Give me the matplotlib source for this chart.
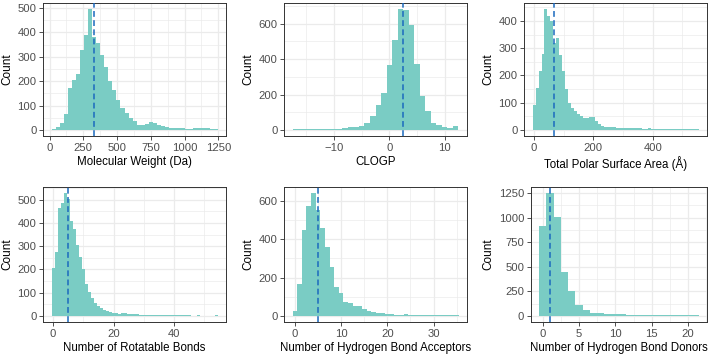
import numpy as np
import matplotlib
matplotlib.use("Agg")
import matplotlib.pyplot as plt
from matplotlib.ticker import MultipleLocator, FixedLocator

plt.rcParams['font.family'] = ['Liberation Sans', 'DejaVu Sans']

# ---------------- data ----------------
mw_start, mw_width = 15, 30
mw_counts = [4, 13, 28, 64, 170, 206, 228, 327, 390, 497, 380, 357, 308, 258, 200,
             165, 124, 90, 70, 50, 37, 20, 20, 25, 33, 28, 20, 16, 14, 8,
             6, 7, 6, 5, 5, 6, 8, 9, 6, 4, 3]
mw_median = 328

clogp_start, clogp_width = -17.5, 1
clogp_counts = [3, 3, 4, 4, 5, 4, 5, 6, 8, 10, 15, 18, 20, 40, 77, 142, 206, 368,
                510, 685, 680, 593, 375, 190, 105, 40, 26, 18, 13, 22]
clogp_median = 2.46

tpsa_start, tpsa_width = -5, 10
tpsa_counts = [92, 153, 215, 280, 445, 418, 400, 318, 336, 276, 215, 151, 98, 80,
               68, 60, 50, 44, 44, 48, 48, 32, 23, 14, 11,
               10, 9, 9, 8, 8, 8, 7, 7, 7, 6, 6, 6, 5, 5, 6, 5, 4, 4, 4, 3,
               3, 3, 3, 3, 3, 2, 2, 2, 2, 2, 2]
tpsa_median = 67

rot_start, rot_width = -0.5, 1
rot_counts = [204, 276, 466, 486, 527, 505, 407, 372, 304, 252, 203, 139, 104, 76,
              55, 41, 34, 25, 22, 18, 14, 12, 10, 13, 11, 8, 7, 6, 6, 5, 5, 4, 4,
              4, 3, 3, 4, 3, 2, 2, 2, 2, 2, 2, 2, 2, 1, 1, 2, 1, 1, 1, 1, 1, 2]
rot_median = 5

hba_start, hba_width = -0.5, 1
hba_counts = [27, 166, 451, 574, 640, 555, 460, 360, 258, 152, 122, 75, 67, 52, 50,
              38, 26, 20, 17, 14, 11, 8, 7, 6, 8, 6, 5, 5, 4, 4, 3, 3, 3, 3, 2, 2]
hba_median = 5

hbd_start, hbd_width = -0.5, 1
hbd_counts = [910, 1245, 1005, 450, 255, 110, 63, 33, 33, 17, 23, 17, 13, 11, 9, 8,
              7, 6, 5, 5, 4, 4]
hbd_median = 1

titles = ["Molecular Weight (Da)", "CLOGP", "Total Polar Surface Area (\u00c5)",
          "Number of Rotatable Bonds", "Number of Hydrogen Bond Acceptors",
          "Number of Hydrogen Bond Donors"]

panels = [
    (mw_start, mw_width, mw_counts, mw_median, [0, 250, 500, 750, 1000, 1250], [0, 100, 200, 300, 400, 500]),
    (clogp_start, clogp_width, clogp_counts, clogp_median, [-10, 0, 10], [0, 200, 400, 600]),
    (tpsa_start, tpsa_width, tpsa_counts, tpsa_median, [0, 200, 400], [0, 100, 200, 300, 400]),
    (rot_start, rot_width, rot_counts, rot_median, [0, 20, 40], [0, 100, 200, 300, 400, 500]),
    (hba_start, hba_width, hba_counts, hba_median, [0, 10, 20, 30], [0, 200, 400, 600]),
    (hbd_start, hbd_width, hbd_counts, hbd_median, [0, 5, 10, 15, 20], [0, 250, 500, 750, 1000, 1250]),
]

# panel boxes in pixels: (left, top, right, bottom)
boxes = [(43.3, 2.7, 226, 136), (284.3, 2.7, 466.7, 136), (524.3, 2.7, 707, 136),
         (43.3, 187.3, 226, 322), (284.3, 187.3, 467.3, 322), (531, 187.3, 707, 322)]

W, H = 710, 358
fig = plt.figure(figsize=(W / 100, H / 100), dpi=100)

fill = '#7ACCC4'
vcol = '#1B69BE'
edge_col = '#333333'
grid_col = '#EBEBEB'

for (start, width, counts, med, xt, yt), title, (l, t, r, b) in zip(panels, titles, boxes):
    ax = fig.add_axes([l / W, 1 - b / H, (r - l) / W, (b - t) / H])
    counts = np.asarray(counts, dtype=float)
    edges = start + width * np.arange(len(counts) + 1)
    centers = 0.5 * (edges[:-1] + edges[1:])
    ax.hist(centers, bins=edges, weights=counts, color=fill, linewidth=0, zorder=2)
    ax.axvline(med, color=vcol, linewidth=1.1, linestyle=(0, (3.8, 2.2)), zorder=3)

    lo, hi = edges[0], edges[-1]
    pad = 0.05 * (hi - lo)
    ax.set_xlim(lo - pad, hi + pad)
    mx = counts.max()
    ax.set_ylim(-0.05 * mx, 1.05 * mx)

    ax.xaxis.set_major_locator(FixedLocator(xt))
    ax.yaxis.set_major_locator(FixedLocator(yt))
    xs = xt[1] - xt[0]
    ys = yt[1] - yt[0]
    ax.xaxis.set_minor_locator(MultipleLocator(xs / 2))
    ax.yaxis.set_minor_locator(MultipleLocator(ys / 2))
    ax.grid(which='major', color=grid_col, linewidth=0.9, zorder=0)
    ax.grid(which='minor', color=grid_col, linewidth=0.5, zorder=0)
    ax.set_axisbelow(True)
    ax.tick_params(which='minor', length=0)
    ax.tick_params(which='major', length=2.75, width=0.6, color=edge_col,
                   labelsize=8.1, labelcolor='#4D4D4D', pad=2.2)
    for s in ax.spines.values():
        s.set_color(edge_col)
        s.set_linewidth(0.7)
    ax.set_xlabel(title, fontsize=8.3, color='black', labelpad=2.5)
    ax.set_ylabel("Count", fontsize=8.5, color='black', labelpad=3)

fig.savefig("out.png", dpi=100)
